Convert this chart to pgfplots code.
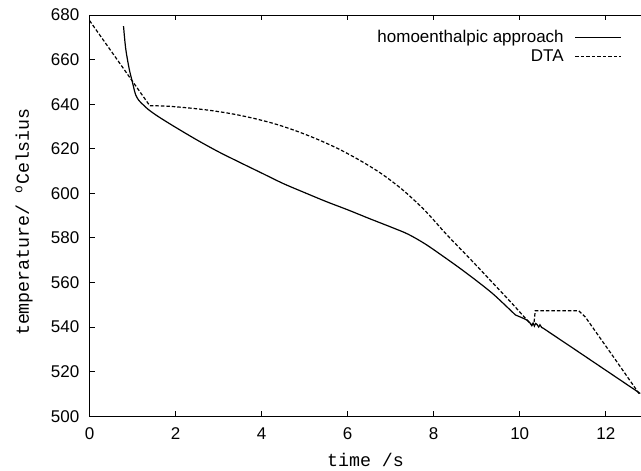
\documentclass[border=0pt]{standalone}
\usepackage{fontspec}
\setmainfont{Liberation Sans}
\setmonofont{Liberation Mono}
\usepackage{pgfplots}
\pgfplotsset{compat=1.18}
\begin{document}
\begin{tikzpicture}
\begin{axis}[
  scale only axis, width=551.7pt, height=401pt,
  xmin=0, xmax=12.83, ymin=500, ymax=680,
  xtick={0,2,4,6,8,10,12}, ytick={500,520,540,560,580,600,620,640,660,680},
  xtick pos=both, ytick pos=left,
  tick align=inside, major tick length=5pt,
  axis line style={line width=0.9pt},
  tick style={line width=0.9pt, black},
  /pgf/number format/assume math mode=true,
  ticklabel style={font=\fontsize{17}{20}\selectfont},
  xticklabel style={anchor=north, inner sep=0pt, yshift=-11pt},
  yticklabel style={anchor=east, inner sep=0pt, xshift=-10pt},
  xlabel={time /s},
  ylabel={temperature/ \textsuperscript{o}Celsius},
  label style={font=\fontsize{18.3}{20}\ttfamily},
  xlabel style={at={(axis description cs:0.5,0)}, anchor=center, yshift=-44pt},
  ylabel style={at={(axis description cs:-0.1187,0.484)}, anchor=center},
  legend style={at={(axis cs:12.45,674.5)}, anchor=north east, draw=none, fill=none,
    font=\fontsize{17}{20}\selectfont, row sep=4pt, column sep=10pt, nodes={inner sep=1pt}},
  legend cell align=right, legend plot pos=right,
  legend image code/.code={\draw[#1] (0pt,0pt) -- (46pt,0pt);},
]
% homoenthalpic approach
\addplot[black, line width=1.2pt, smooth, tension=0.5] coordinates {
(0.79,675) (0.84,665) (0.92,656) (0.995,650) (1.07,644.3) (1.15,641.6) (1.27,639.3) (1.38,637.4)
(1.6,634.4) (2.0,629.6) (2.5,623.9) (3.0,618.6) (3.5,613.8) (4.0,609.1) (4.5,604.4) (5.0,600.3)
(5.5,596.3) (6.0,592.6) (6.5,588.7) (7.0,584.9) (7.4,581.7) (7.8,577.3) (8.2,572.0) (8.6,566.5)
(9.0,560.7) (9.4,554.5) (9.9,545.4)
};
\addlegendentry{homoenthalpic approach}
\addplot[black, line width=1.2pt, dash pattern=on 3.5pt off 2pt] coordinates {
(0,677.5) (1.40,639.3)
};
\addlegendentry{DTA}
\addplot[black, line width=1.2pt, forget plot] coordinates {
(9.9,545.4) (10.05,544.2) (10.17,543.1)
(10.24,541.8) (10.28,540.6) (10.31,541.8) (10.34,540.4) (10.37,541.6) (10.40,541.2) (10.44,540.0)
(10.47,541.0) (10.51,539.8) (10.55,539.4) (11.2,531) (12.0,520.6) (12.8,510.2)
};
\addplot[black, line width=1.2pt, dash pattern=on 3.5pt off 2pt, smooth, tension=0.5, forget plot] coordinates {
(1.40,639.3) (1.8,639.1) (2.3,638.3) (2.8,637.2) (3.3,635.7) (3.8,633.7) (4.3,631.2) (4.8,628.0)
(5.3,624.2) (5.8,619.8) (6.3,614.6) (6.8,608.6) (7.3,601.2) (7.8,592.2) (8.3,581.5) (8.8,571.5)
(9.3,561.3) (9.8,551) (10.17,543.1)
};
\addplot[black, line width=1.2pt, dash pattern=on 3.5pt off 2pt, forget plot] coordinates {
(10.17,543.1) (10.28,540.9) (10.33,541.5) (10.36,547.3)
(11.37,547.3) (11.52,544.6) (12.2,526) (12.8,509.4)
};
\end{axis}
\pgfresetboundingbox
\useasboundingbox (-89.5pt,-54pt) rectangle (551.2pt,416pt);
\end{tikzpicture}
\end{document}
